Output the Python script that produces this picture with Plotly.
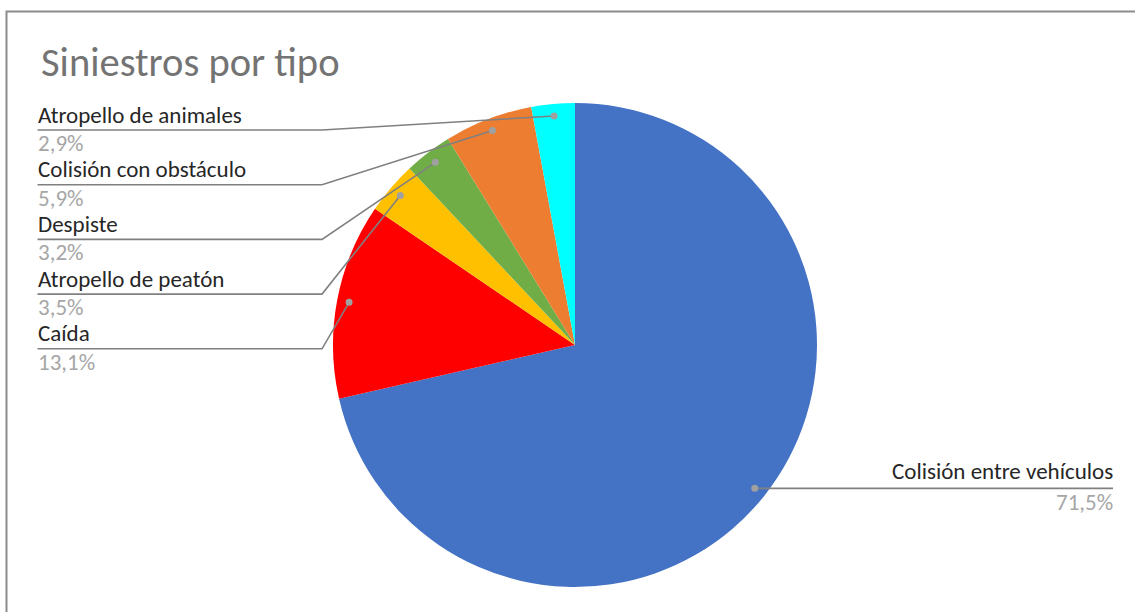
import math
import plotly.graph_objects as go

# ---- data (clockwise from 12 o'clock) ----
labels = ["Colisión entre vehículos", "Caída", "Atropello de peatón",
          "Despiste", "Colisión con obstáculo", "Atropello de animales"]
values = [71.5, 13.1, 3.5, 3.2, 5.9, 2.9]
value_text = ["71,5%", "13,1%", "3,5%", "3,2%", "5,9%", "2,9%"]
colors = ["#4472C4", "#FF0000", "#FFC000", "#70AD47", "#ED7D31", "#00FFFF"]
title_text = "Siniestros por tipo"

# ---- layout constants (pixels) ----
W, H = 1135, 612
CX, CY, R = 575, 345, 242
FONT = "Carlito, Calibri, Lato, sans-serif"
ASC = 0.987  # ascent ratio used to place text baselines


def px(x):
    return x / W


def py(y):
    return 1 - y / H


fig = go.Figure()
fig.add_trace(go.Pie(
    labels=labels, values=values, sort=False, direction="clockwise",
    rotation=0, marker=dict(colors=colors, line=dict(width=0)),
    textinfo="none", hoverinfo="label+percent", showlegend=False,
    domain=dict(x=[px(CX - R), px(CX + R)], y=[py(CY + R), py(CY - R)]),
))

# leader dot positions derived from slice mid-angles (clockwise from top)
total = sum(values)
cum = 0.0
dots = []
for v in values:
    mid = (cum + v / 2) / total * 2 * math.pi
    cum += v
    r = 0.95 * R
    dots.append((CX + r * math.sin(mid), CY - r * math.cos(mid)))

shapes = []
annotations = []
LINE_COL = "#808080"
DOT_COL = "#A0A0A0"
NAME_COL = "#262626"
VAL_COL = "#A6A6A6"
SIZE = 23


def text(x, baseline, s, color, size, xanchor):
    annotations.append(dict(x=px(x), y=py(baseline - ASC * size), xref="paper", yref="paper",
                            text=s, showarrow=False, xanchor=xanchor, yanchor="top",
                            font=dict(family=FONT, size=size, color=color),
                            borderpad=0, borderwidth=0))


left_x, bend_x = 37.5, 322
left_order = [5, 4, 3, 2, 1]  # top-to-bottom on the left side
for row, i in enumerate(left_order):
    uy = 130 + 54.7 * row
    dx, dy = dots[i]
    shapes.append(dict(type="path", xref="paper", yref="paper",
                       path=f"M {px(left_x)},{py(uy)} L {px(bend_x)},{py(uy)} L {px(dx)},{py(dy)}",
                       line=dict(color=LINE_COL, width=1.6)))
    text(left_x, uy - 6.7, labels[i], NAME_COL, SIZE, "left")
    text(left_x, uy + 21.7, value_text[i], VAL_COL, SIZE, "left")

# right label (largest slice)
dx, dy = dots[0]
right_x = 1113
shapes.append(dict(type="path", xref="paper", yref="paper",
                   path=f"M {px(dx)},{py(dy)} L {px(right_x)},{py(dy)}",
                   line=dict(color=LINE_COL, width=1.6)))
text(right_x, dy - 8.5, labels[0], NAME_COL, SIZE, "right")
text(right_x, dy + 22, value_text[0], VAL_COL, SIZE, "right")

# dots
for (dx, dy) in dots:
    shapes.append(dict(type="circle", xref="paper", yref="paper",
                       x0=px(dx - 3.5), x1=px(dx + 3.5), y0=py(dy + 3.5), y1=py(dy - 3.5),
                       fillcolor=DOT_COL, line=dict(width=0)))

# chart border (left and top visible)
shapes.append(dict(type="path", xref="paper", yref="paper",
                   path=f"M {px(6.5)},{py(H + 5)} L {px(6.5)},{py(11.5)} L {px(W + 5)},{py(11.5)}",
                   line=dict(color="#8C8C8C", width=2)))

# title
TS = 40.5
annotations.append(dict(x=px(41), y=py(77.3 - ASC * TS), xref="paper", yref="paper",
                        text=title_text, showarrow=False, xanchor="left", yanchor="top",
                        font=dict(family=FONT, size=TS, color="#737373"),
                        borderpad=0, borderwidth=0))

fig.update_layout(width=W, height=H, margin=dict(l=0, r=0, t=0, b=0),
                  paper_bgcolor="white", plot_bgcolor="white",
                  shapes=shapes, annotations=annotations)

fig.write_html("out.html", config={"displayModeBar": False},
               post_script="document.body.style.margin='0';")
